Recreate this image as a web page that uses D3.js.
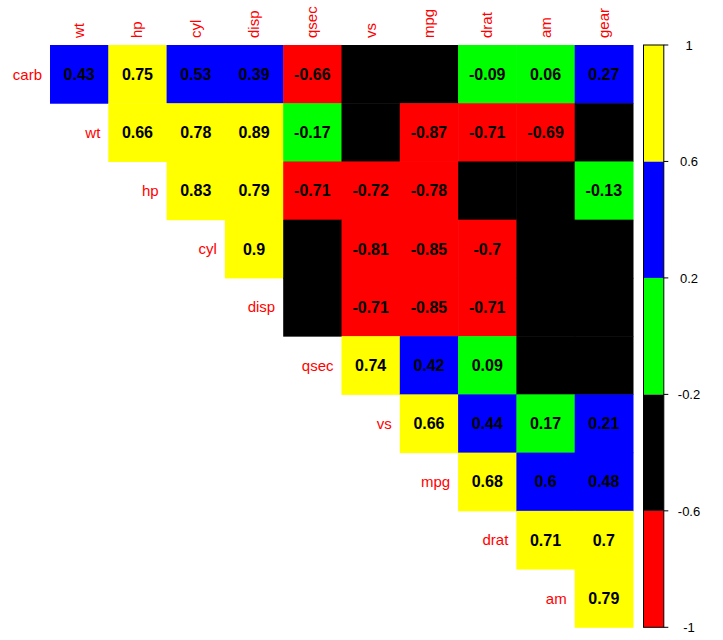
<!DOCTYPE html>
<html>
<head>
<meta charset="utf-8">
<script src="https://cdn.jsdelivr.net/npm/d3@7"></script>
<style>
body { margin: 0; background: #fff; }
text { font-family: "Liberation Sans", Arial, sans-serif; }
</style>
</head>
<body>
<div id="chart"></div>
<script>
const rowVars = ["carb", "wt", "hp", "cyl", "disp", "qsec", "vs", "mpg", "drat", "am"]
const colVars = ["wt", "hp", "cyl", "disp", "qsec", "vs", "mpg", "drat", "am", "gear"]
// upper triangle, row i starts at column i
const corRows = [
  [0.43, 0.75, 0.53, 0.39, -0.66, -0.57, -0.55, -0.09, 0.06, 0.27],
  [0.66, 0.78, 0.89, -0.17, -0.55, -0.87, -0.71, -0.69, -0.58],
  [0.83, 0.79, -0.71, -0.72, -0.78, -0.45, -0.24, -0.13],
  [0.9, -0.59, -0.81, -0.85, -0.7, -0.52, -0.49],
  [-0.43, -0.71, -0.85, -0.71, -0.59, -0.56],
  [0.74, 0.42, 0.09, -0.23, -0.21],
  [0.66, 0.44, 0.17, 0.21],
  [0.68, 0.5998, 0.48],
  [0.71, 0.7],
  [0.79]
]
const breaks = [-0.6, -0.2, 0.2, 0.6]
const palette = ["red", "black", "#00ff00", "blue", "yellow"]
const legendTicks = [-1, -0.6, -0.2, 0.2, 0.6, 1]

var width = 723, height = 640
var svg = d3.select("#chart").append("svg")
    .attr("width", width)
    .attr("height", height)

const x = d3.scaleBand().domain(colVars).range([50, 633])
const y = d3.scaleBand().domain(rowVars).range([45, 627.3])
const color = d3.scaleThreshold().domain(breaks).range(palette)

let cells = []
corRows.forEach((vals, i) => {
    vals.forEach((v, k) => {
        cells.push({row: rowVars[i], col: colVars[i + k], v: v})
    })
})

svg.selectAll("rect.cell")
    .data(cells)
    .join("rect")
    .attr("class", "cell")
    .attr("x", d => x(d.col))
    .attr("y", d => y(d.row))
    .attr("width", x.bandwidth() + 0.5)
    .attr("height", y.bandwidth() + 0.5)
    .style("fill", d => color(d.v))

svg.selectAll("text.val")
    .data(cells)
    .join("text")
    .attr("class", "val")
    .attr("x", d => x(d.col) + x.bandwidth() / 2)
    .attr("y", d => y(d.row) + y.bandwidth() / 2)
    .attr("dy", "0.36em")
    .attr("text-anchor", "middle")
    .style("font-size", "16px")
    .style("font-weight", "bold")
    .style("fill", "black")
    .text(d => String(+d.v.toFixed(2)))

// row labels, right aligned before first cell of each row
svg.selectAll("text.rlab")
    .data(rowVars)
    .join("text")
    .attr("class", "rlab")
    .attr("x", (d, i) => x(colVars[i]) - 8)
    .attr("y", d => y(d) + y.bandwidth() / 2)
    .attr("dy", "0.36em")
    .attr("text-anchor", "end")
    .style("font-size", "15px")
    .style("fill", "red")
    .text(d => d)

// column labels, rotated
svg.selectAll("text.clab")
    .data(colVars)
    .join("text")
    .attr("class", "clab")
    .attr("transform", d => `translate(${x(d) + x.bandwidth() / 2 + 5}, 38) rotate(-90)`)
    .attr("text-anchor", "start")
    .style("font-size", "15px")
    .style("fill", "red")
    .text(d => d)

// colour legend
const yLeg = d3.scaleLinear().domain([-1, 1]).range([627.3, 45])
const legX = 643.5, legW = 20.3
svg.selectAll("rect.leg")
    .data(palette)
    .join("rect")
    .attr("class", "leg")
    .attr("x", legX)
    .attr("y", (d, i) => yLeg(legendTicks[i + 1]))
    .attr("width", legW)
    .attr("height", (d, i) => yLeg(legendTicks[i]) - yLeg(legendTicks[i + 1]))
    .style("fill", d => d)

svg.append("rect")
    .attr("x", legX)
    .attr("y", yLeg(1))
    .attr("width", legW)
    .attr("height", yLeg(-1) - yLeg(1))
    .style("fill", "none")
    .style("stroke", "black")
    .style("stroke-width", 1)

svg.selectAll("line.ltick")
    .data(legendTicks)
    .join("line")
    .attr("class", "ltick")
    .attr("x1", legX + legW)
    .attr("x2", legX + legW + 4.5)
    .attr("y1", d => yLeg(d))
    .attr("y2", d => yLeg(d))
    .style("stroke", "black")

svg.selectAll("text.ltext")
    .data(legendTicks)
    .join("text")
    .attr("class", "ltext")
    .attr("x", 689)
    .attr("y", d => yLeg(d))
    .attr("dy", "0.36em")
    .attr("text-anchor", "middle")
    .style("font-size", "13px")
    .style("fill", "black")
    .text(d => String(d))
</script>
</body>
</html>
